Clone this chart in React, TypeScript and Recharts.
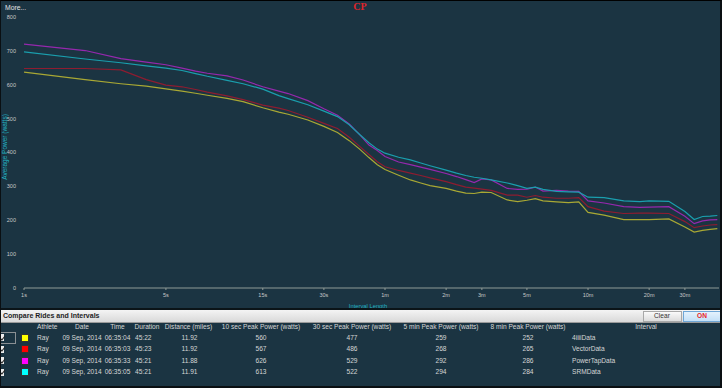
import React from 'react';
import { LineChart, Line, XAxis, YAxis } from 'recharts';

// interval length in seconds
const durations = [
  1, 2, 3, 4, 5, 6, 7, 8, 10, 12, 15, 18, 20, 25, 30, 35, 40, 45, 50, 55, 60, 70, 80, 90, 100,
  120, 135, 150, 165, 180, 200, 240, 270, 300, 330, 360, 420, 480, 540, 600, 720, 900, 1080,
  1200, 1500, 1800, 2000, 2200, 2400, 2600,
];

const power4iiii = [
  637, 615, 603, 596, 588, 581, 575, 569, 560, 550, 532, 519, 513, 496, 477, 459, 435, 410, 385, 364, 350,
  333, 319, 310, 302, 294, 286, 280, 279, 283, 282, 260, 255, 259, 264, 257, 254, 252, 254, 223, 215,
  202, 202, 202, 204, 180, 165, 170, 173, 175,
];
const powerVector = [
  648, 648, 644, 615, 599, 594, 586, 578, 567, 556, 540, 531, 524, 504, 486, 471, 445, 418, 394, 373, 358,
  347, 339, 332, 325, 314, 305, 298, 295, 292, 288, 274, 274, 268, 273, 268, 265, 265, 267, 240, 227,
  220, 221, 221, 220, 196, 178, 183, 186, 187,
];
const powerPowerTap = [
  720, 701, 677, 667, 659, 649, 640, 634, 626, 614, 594, 581, 574, 553, 529, 510, 484, 453, 422, 406, 388,
  372, 364, 357, 350, 338, 329, 320, 311, 322, 319, 294, 291, 292, 298, 286, 288, 286, 285, 257, 251,
  240, 238, 239, 240, 212, 190, 198, 201, 202,
];
const powerSRM = [
  697, 676, 665, 656, 649, 642, 633, 625, 613, 603, 587, 568, 559, 541, 522, 506, 482, 453, 429, 410, 398,
  386, 378, 369, 361, 348, 339, 332, 327, 324, 319, 310, 302, 294, 298, 291, 285, 284, 283, 268, 267,
  257, 255, 257, 256, 226, 202, 211, 212, 214,
];

const xTicks = [1, 5, 15, 30, 60, 120, 180, 300, 600, 1200, 1800];
const xTickLabels = ['1s', '5s', '15s', '30s', '1m', '2m', '3m', '5m', '10m', '20m', '30m'];
const yTicks = [0, 100, 200, 300, 400, 500, 600, 700, 800];

// compare table
const swatches = ['#ffff00', '#ff0000', '#ff00ff', '#00ffff'];
const athletes = ['Ray', 'Ray', 'Ray', 'Ray'];
const dates = ['09 Sep, 2014', '09 Sep, 2014', '09 Sep, 2014', '09 Sep, 2014'];
const times = ['06:35:04', '06:35:03', '06:35:33', '06:35:05'];
const rideDurations = ['45:22', '45:23', '45:21', '45:21'];
const distances = ['11.92', '11.92', '11.88', '11.91'];
const peak10s = [560, 567, 626, 613];
const peak30s = [477, 486, 529, 522];
const peak5min = [259, 268, 292, 294];
const peak8min = [252, 265, 286, 284];
const intervals = ['4iiiiData', 'VectorData', 'PowerTapData', 'SRMData'];

const data = durations.map((t, i) => ({
  t,
  a: power4iiii[i],
  v: powerVector[i],
  p: powerPowerTap[i],
  s: powerSRM[i],
}));

const BG = '#1b3442';
const FONT = '"Liberation Sans", Arial, sans-serif';

function Txt({
  x, y, children, align = 'center', color = '#d6d6d6', size = 6.6, bold = false,
}: {
  x: number; y: number; children: React.ReactNode; align?: 'left' | 'center'; color?: string; size?: number; bold?: boolean;
}) {
  const style: React.CSSProperties = {
    position: 'absolute',
    top: y - 6,
    height: 12,
    lineHeight: '12px',
    fontSize: size,
    color,
    fontWeight: bold ? 'bold' : 'normal',
    whiteSpace: 'nowrap',
  };
  if (align === 'center') {
    style.left = x - 60;
    style.width = 120;
    style.textAlign = 'center';
  } else {
    style.left = x;
  }
  return <div style={style}>{children}</div>;
}

export default function App() {
  const rowY = (i: number) => 337.5 + i * 11.6;

  return (
    <div style={{ position: 'relative', width: 722, height: 388, background: BG, overflow: 'hidden', fontFamily: FONT }}>
      <style>{'body{margin:0}'}</style>

      <div style={{ position: 'absolute', left: 0, top: 0 }}>
        <LineChart width={722} height={309} data={data} margin={{ top: 17, right: 3, bottom: 1, left: 0 }}>
          <XAxis
            dataKey="t"
            type="number"
            scale="log"
            domain={[1, 2650]}
            allowDataOverflow
            ticks={xTicks}
            tickFormatter={(v: number) => xTickLabels[xTicks.indexOf(v)] ?? ''}
            height={20}
            tick={{ fontSize: 5.5, fill: '#c8c8c8', fontFamily: FONT }}
            tickSize={2}
            tickMargin={3.5}
            tickLine={{ stroke: '#8f9a96' }}
            axisLine={{ stroke: '#8f9a96' }}
          />
          <YAxis
            type="number"
            domain={[0, 800]}
            ticks={yTicks}
            width={24}
            tick={{ fontSize: 5.5, fill: '#c8c8c8', fontFamily: FONT }}
            tickSize={0}
            tickMargin={8}
            tickLine={false}
            axisLine={false}
          />
          <Line type="linear" dataKey="a" stroke="#a9a834" strokeWidth={1.2} dot={false} isAnimationActive={false} />
          <Line type="linear" dataKey="v" stroke="#8e1c30" strokeWidth={1.2} dot={false} isAnimationActive={false} />
          <Line type="linear" dataKey="p" stroke="#9628ae" strokeWidth={1.2} dot={false} isAnimationActive={false} />
          <Line type="linear" dataKey="s" stroke="#1a9fae" strokeWidth={1.2} dot={false} isAnimationActive={false} />
        </LineChart>
      </div>

      {/* chart titles */}
      <Txt x={5} y={8} align="left" color="#e2e2e2" size={6.8}>More...</Txt>
      <div style={{ position: 'absolute', left: 320, width: 80, top: 1, textAlign: 'center', fontFamily: '"Liberation Serif", serif', fontWeight: 'bold', fontSize: 10, color: '#e0242a' }}>CP</div>
      <div style={{ position: 'absolute', left: 4, top: 147, width: 0, height: 0 }}>
        <div style={{ position: 'absolute', transform: 'translate(-50%, -50%) rotate(-90deg)', whiteSpace: 'nowrap', fontSize: 6.5, color: '#22b2c2' }}>
          Average Power (watts)
        </div>
      </div>
      <Txt x={368} y={306} color="#22b2c2" size={5.8}>Interval Length</Txt>

      {/* compare panel */}
      <div style={{ position: 'absolute', left: 0, top: 308, width: 722, height: 2, background: '#0b1418' }} />
      <div style={{ position: 'absolute', left: 0, top: 310, width: 722, height: 12, background: 'linear-gradient(#f4f4f4, #d9d9d9)', borderBottom: '1px solid #9a9a9a' }} />
      <Txt x={3} y={316} align="left" color="#1e1e1e" size={7} bold>Compare Rides and Intervals</Txt>
      <div style={{ position: 'absolute', left: 643, top: 311, width: 37, height: 9, background: 'linear-gradient(#fafafa, #dcdcdc)', border: '1px solid #a8a8a8' }} />
      <Txt x={662} y={316} color="#333" size={6.6}>Clear</Txt>
      <div style={{ position: 'absolute', left: 683, top: 311, width: 36, height: 9, background: 'linear-gradient(#e4f2fd, #c4e0f7)', border: '1px solid #6fa6d6' }} />
      <Txt x={702} y={316} color="#e8262a" size={6.6} bold>ON</Txt>

      {/* column headers */}
      <Txt x={37} y={327} align="left">Athlete</Txt>
      <Txt x={82} y={327}>Date</Txt>
      <Txt x={117.5} y={327}>Time</Txt>
      <Txt x={147} y={327}>Duration</Txt>
      <Txt x={188.5} y={327}>Distance (miles)</Txt>
      <Txt x={261} y={327}>10 sec Peak Power (watts)</Txt>
      <Txt x={352} y={327}>30 sec Peak Power (watts)</Txt>
      <Txt x={441} y={327}>5 min Peak Power (watts)</Txt>
      <Txt x={528} y={327}>8 min Peak Power (watts)</Txt>
      <Txt x={646} y={327}>Interval</Txt>

      <div style={{ position: 'absolute', left: -1, top: 332, width: 15, height: 10, border: '1px solid #8a9094' }} />
      {intervals.map((name, i) => (
        <React.Fragment key={name}>
          <div style={{ position: 'absolute', left: 0, top: rowY(i) - 3.5, width: 4, height: 7, background: '#ececec' }}>
            <div style={{ position: 'absolute', left: 0.5, top: 0.5, width: 1.5, height: 4, borderRight: '1px solid #222', borderBottom: '1px solid #222', transform: 'rotate(40deg)' }} />
          </div>
          <div style={{ position: 'absolute', left: 21, top: rowY(i) - 4, width: 8, height: 8, background: swatches[i], border: '0.5px solid #333', boxSizing: 'border-box' }} />
          <Txt x={37} y={rowY(i)} align="left">{athletes[i]}</Txt>
          <Txt x={82} y={rowY(i)}>{dates[i]}</Txt>
          <Txt x={117.5} y={rowY(i)}>{times[i]}</Txt>
          <Txt x={135} y={rowY(i)} align="left">{rideDurations[i]}</Txt>
          <Txt x={189.5} y={rowY(i)}>{distances[i]}</Txt>
          <Txt x={261} y={rowY(i)}>{peak10s[i]}</Txt>
          <Txt x={352} y={rowY(i)}>{peak30s[i]}</Txt>
          <Txt x={441} y={rowY(i)}>{peak5min[i]}</Txt>
          <Txt x={528} y={rowY(i)}>{peak8min[i]}</Txt>
          <Txt x={572} y={rowY(i)} align="left">{name}</Txt>
        </React.Fragment>
      ))}

      {/* frame */}
      <div style={{ position: 'absolute', left: 0, top: 0, width: 722, height: 388, boxSizing: 'border-box', borderTop: '1px solid #000', borderRight: '2px solid #0a0f12', borderBottom: '2px solid #0a0f12', borderLeft: '1px solid #0a0f12', pointerEvents: 'none' }} />
    </div>
  );
}
